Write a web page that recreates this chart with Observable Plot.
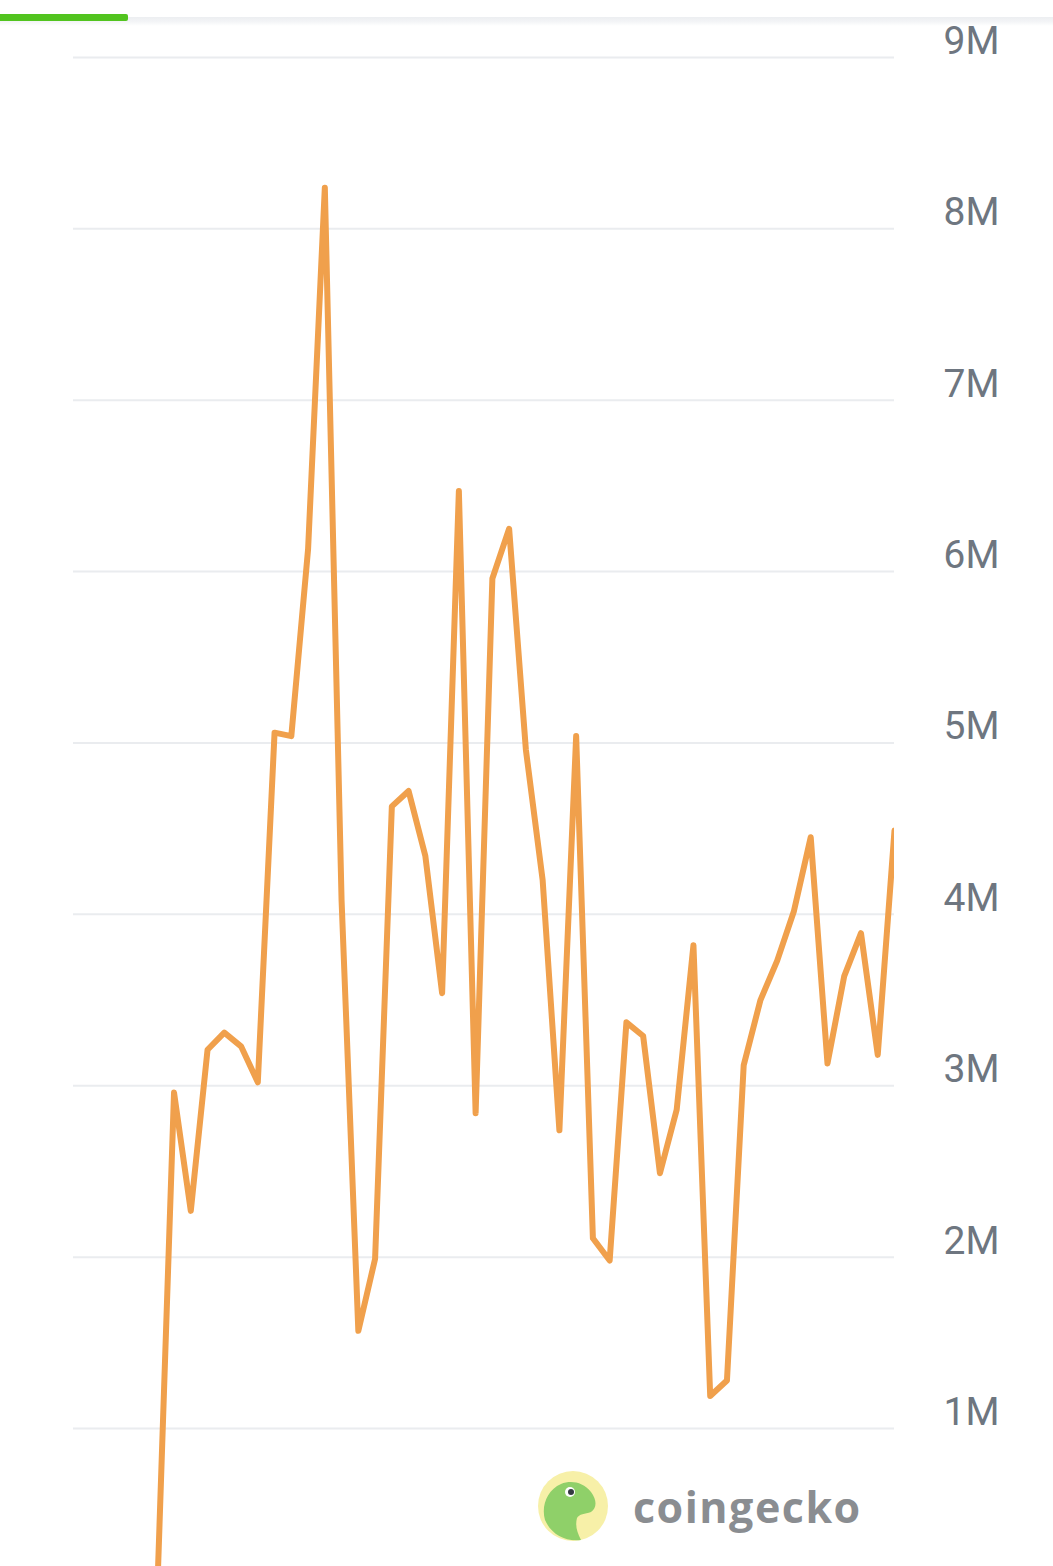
<!DOCTYPE html>
<html>
<head>
<meta charset="utf-8">
<script src="https://cdn.jsdelivr.net/npm/d3@7"></script>
<script src="https://cdn.jsdelivr.net/npm/@observablehq/plot@0.6"></script>
<style>
html, body { margin: 0; padding: 0; background: #ffffff; }
#wrap { position: relative; width: 1053px; height: 1566px; overflow: hidden; background: #fff; }
#chart { position: absolute; left: 0; top: 0; }
#tabline { position: absolute; left: 0; top: 17px; width: 1053px; height: 9px;
  background: linear-gradient(#eceef1, #f4f5f7 55%, #ffffff); }
#tabactive { position: absolute; left: 0; top: 14px; width: 128px; height: 7px; background: #52c41f; border-radius: 0 2px 2px 0; }
#logo { position: absolute; left: 537px; top: 1470px; display: flex; align-items: center; }
#logo span { font-family: "Open Sans", "Noto Sans", sans-serif; font-weight: 700; font-size: 43px;
  color: #8a8d91; margin-left: 24px; letter-spacing: 1.5px; }
</style>
</head>
<body>
<div id="wrap">
  <div id="chart"></div>
  <div id="tabline"></div>
  <div id="tabactive"></div>
  <div id="logo">
    <svg width="72" height="72" viewBox="0 0 72 72">
      <circle cx="36" cy="36" r="35" fill="#f7f0a8"/>
      <path d="M8 50 C4 36 10 20 24 14 C34 10 46 12 54 22 C60 30 60 38 54 42 C48 44 42 44 40 48 C38 56 40 62 44 70 C28 72 14 64 8 50 Z" fill="#8fd069"/>
      <circle cx="33" cy="22" r="5" fill="#ffffff"/>
      <circle cx="34" cy="22" r="3" fill="#333a40"/>
    </svg>
    <span>coingecko</span>
  </div>
</div>
<script>
// Daily trading volume (USD)
const days = d3.range(0, 45);
const volumes = [
  0.05e6, 2.96e6, 2.27e6, 3.21e6, 3.31e6, 3.23e6, 3.02e6, 5.06e6, 5.04e6, 6.13e6,
  8.24e6, 4.08e6, 1.57e6, 1.99e6, 4.63e6, 4.72e6, 4.34e6, 3.54e6, 6.47e6, 2.84e6,
  5.96e6, 6.25e6, 4.96e6, 4.20e6, 2.74e6, 5.04e6, 2.11e6, 1.98e6, 3.37e6, 3.29e6,
  2.49e6, 2.86e6, 3.82e6, 1.19e6, 1.28e6, 3.12e6, 3.50e6, 3.73e6, 4.02e6, 4.45e6,
  3.13e6, 3.64e6, 3.89e6, 3.18e6, 4.49e6
];
const yTicks = [1e6, 2e6, 3e6, 4e6, 5e6, 6e6, 7e6, 8e6, 9e6];
const tickLabel = d => (d / 1e6) + "M";

const data = days.map((d, i) => ({day: d, volume: volumes[i]}));

const chart = Plot.plot({
  width: 1053,
  height: 1566,
  marginTop: 0,
  marginBottom: 0,
  marginLeft: 73,
  marginRight: 159,
  style: {background: "transparent", overflow: "visible"},
  x: {domain: [-5, 44], axis: null},
  y: {domain: [0.195e6, 9.332e6], axis: null},
  marks: [
    Plot.ruleY(yTicks, {stroke: "#eaecef", strokeWidth: 2}),
    Plot.axisY(yTicks, {
      anchor: "right", tickSize: 0, tickPadding: 49, tickFormat: tickLabel,
      fontSize: 39, fill: "#6e7680", dy: -16, label: null,
      fontFamily: "Roboto, sans-serif"
    }),
    Plot.line(data, {
      x: "day", y: "volume", stroke: "#f0a04c", strokeWidth: 6,
      strokeLinejoin: "round", strokeLinecap: "round", clip: true
    })
  ]
});
document.getElementById("chart").appendChild(chart);
</script>
</body>
</html>
